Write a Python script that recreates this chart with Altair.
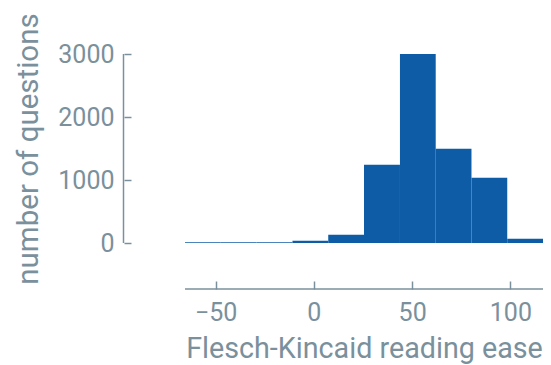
import altair as alt
import pandas as pd

# Histogram bins (Flesch-Kincaid reading ease) and counts
bin_edges = [-65.6, -47.4, -29.2, -10.9, 7.3, 25.5, 43.8, 62.0, 80.2, 98.4, 116.6]
counts = [12, 10, 12, 37, 132, 1243, 3000, 1497, 1037, 68]
y_ticks = [0, 1000, 2000, 3000]
x_ticks = [-50, 0, 50, 100]

TEXT = "#7a909c"
BAR = "#0e5ca6"
FONT = "Roboto"

df = pd.DataFrame({
    "start": bin_edges[:-1],
    "end": bin_edges[1:],
    "count": counts,
})

xdom = [bin_edges[0], bin_edges[-1]]
ydom = [y_ticks[0], y_ticks[-1]]

xscale = alt.Scale(domain=xdom, nice=False, zero=False)
yscale = alt.Scale(domain=ydom, nice=False)

bars = alt.Chart(df).mark_rect(color=BAR).encode(
    x=alt.X("start:Q", scale=xscale,
            axis=alt.Axis(values=x_ticks, title="Flesch-Kincaid reading ease",
                          format="d", domain=False, offset=38, tickSize=8,
                          tickColor=TEXT, tickWidth=1.5, labelPadding=11,
                          titlePadding=9, titleFontSize=28.7, grid=False)),
    x2="end:Q",
    y=alt.Y("count:Q", scale=yscale,
            axis=alt.Axis(values=y_ticks, title="number of questions",
                          format="d", domain=False, offset=54, tickSize=7,
                          tickColor=TEXT, tickWidth=1.5, labelPadding=10,
                          titlePadding=14, grid=False)),
    y2=alt.datum(0),
)

# axis base lines (drawn detached from the plot, ticks pointing inward)
yline_df = pd.DataFrame({"y0": [ydom[0]], "y1": [ydom[1]]})
yline = alt.Chart(yline_df).mark_rule(color=TEXT, strokeWidth=1.5).encode(
    x=alt.value(-61.5), y="y0:Q", y2="y1:Q")

xline_df = pd.DataFrame({"x0": [xdom[0]], "x1": [xdom[1]]})
xline = alt.Chart(xline_df).mark_rule(color=TEXT, strokeWidth=1.5).encode(
    y=alt.value(235), x="x0:Q", x2="x1:Q")

chart = alt.layer(bars, yline, xline).properties(
    width=358, height=189,
    autosize=alt.AutoSizeParams(type="none"),
    padding={"left": 177, "top": 46, "right": 0, "bottom": 121},
).configure_view(stroke=None).configure_axis(
    labelFont=FONT, titleFont=FONT, labelColor=TEXT, titleColor=TEXT,
    labelFontSize=25, titleFontSize=29.5, titleFontWeight="normal",
)

chart.save("out.html", embed_options={"renderer": "svg", "actions": False})
